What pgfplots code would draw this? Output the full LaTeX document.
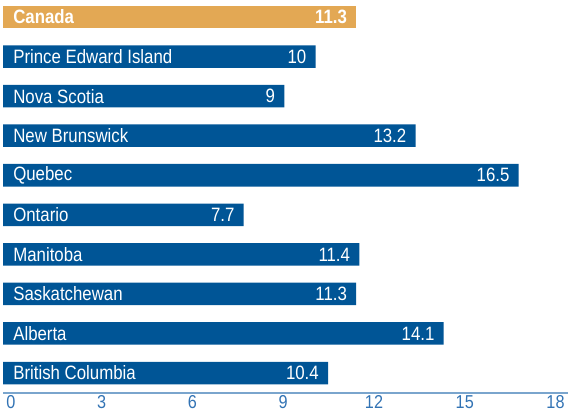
\documentclass[border=0pt]{standalone}
\usepackage{pgfplots}
\pgfplotsset{compat=1.18}
\usepackage{fontspec}
\setmainfont{Liberation Sans}[FakeStretch=0.87]
\definecolor{barBlue}{RGB}{0,85,150}
\definecolor{barOrange}{RGB}{227,168,84}
\definecolor{axisBlue}{RGB}{122,165,205}
\definecolor{tickBlue}{RGB}{50,115,180}
\begin{document}
\begin{tikzpicture}
\begin{axis}[
    scale only axis,
    width=423.75pt, height=294.75pt,
    xbar, bar shift=0pt, bar width=16.9pt,
    xmin=0, xmax=18.08,
    ymin=-0.43, ymax=9.505, y dir=reverse,
    axis on top,
    axis x line*=bottom, axis y line*=left,
    x axis line style={draw=axisBlue, line width=1.1pt, -},
    y axis line style={draw=none},
    major tick length=0pt,
    xtick={0,3,...,18},
    xticklabel style={font=\fontsize{14}{16}\selectfont, text=tickBlue, yshift=1.5pt,
        xshift={(8-3*\ticknum)*0.75pt}},
    ytick={0,...,9},
    yticklabels={\bfseries Canada, Prince Edward Island, Nova Scotia, New Brunswick,
                 Quebec, Ontario, Manitoba, Saskatchewan, Alberta, British Columbia},
    yticklabel style={font=\fontsize{14.5}{16}\selectfont, text=white, anchor=west, xshift=4.2pt},
    /pgf/number format/assume math mode=true,
    /pgf/number format/fixed, /pgf/number format/precision=1,
    nodes near coords,
    every node near coord/.append style={font=\fontsize{14.5}{16}\selectfont, text=white,
        anchor=east, xshift=-3.4pt},
]
    % Canada (highlighted)
    \addplot[draw=none, fill=barOrange,
        every node near coord/.append style={font=\fontsize{14.5}{16}\selectfont\bfseries}]
      coordinates {(11.3,0)};
    % provinces
    \addplot[draw=none, fill=barBlue] coordinates {
        (10,1) (9,2) (13.2,3) (16.5,4) (7.7,5)
        (11.4,6) (11.3,7) (14.1,8) (10.4,9)
    };
\end{axis}
\pgfresetboundingbox
\path (current axis.south west) ++(-2.25pt,-15pt) rectangle (current axis.north east);
\end{tikzpicture}
\end{document}
